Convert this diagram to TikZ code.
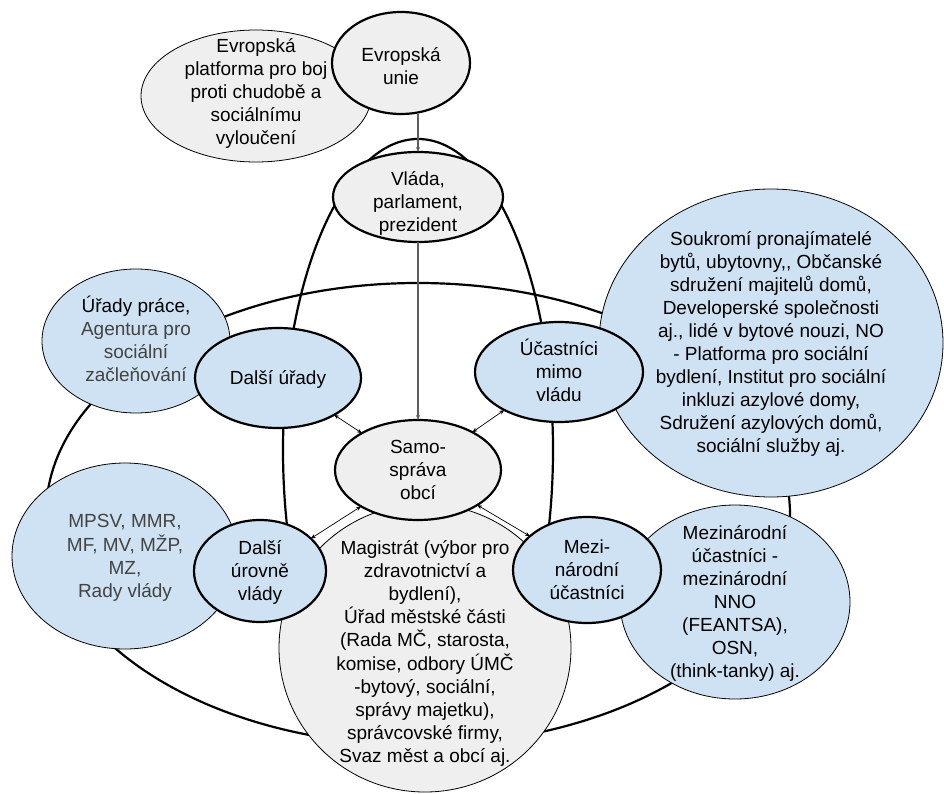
\documentclass[tikz,border=0pt]{standalone}
\usepackage{fontspec}
\setmainfont{Liberation Sans}
\usetikzlibrary{shapes.geometric,arrows.meta}
\definecolor{fillgray}{HTML}{EFEFEF}
\definecolor{fillblue}{HTML}{CFE2F3}
\definecolor{txtgray}{HTML}{434343}
\definecolor{arrowgray}{HTML}{5F5F5F}
\newcommand{\tx}[2][0pt]{\smash{\makebox[0pt]{\raisebox{\dimexpr-6pt-#1\relax}{\begin{tabular}{@{}c@{}}#2\end{tabular}}}}}
\tikzset{
  every node/.style={font=\fontsize{19}{23}\selectfont},
  ell/.style={ellipse, inner sep=0pt, outer sep=0pt},
  thickell/.style={ell, draw=black, line width=2.2pt},
  thinell/.style={ell, draw=black, line width=0.8pt},
  ring/.style={thickell, fill=none},
  grayfill/.style={fill=fillgray},
  bluefill/.style={fill=fillblue},
  dblarrow/.style={{Stealth[length=5pt,width=4pt]}-{Stealth[length=5pt,width=4pt]}, line width=0.7pt},
  grayarrow/.style={-{Stealth[length=5pt,width=4pt]}, line width=1.5pt, draw=arrowgray}
}
\begin{document}
\begin{tikzpicture}[x=1pt,y=-1pt]
\useasboundingbox (0,0) rectangle (944,794);
% big rings
\node[ring, minimum width=744pt, minimum height=462pt] (hring) at (418,514) {};
\node[ring, minimum width=270pt, minimum height=622pt] (vring) at (418,450) {};
% top
\node[thinell, grayfill, minimum width=230pt, minimum height=132pt] (plat) at (256,96)
  {\tx[-4pt]{Evropská\\platforma pro boj\\proti chudobě a\\sociálnímu\\vyloučení}};
\node[thickell, grayfill, minimum width=138pt, minimum height=102pt] (eu) at (401,63)
  {\tx[4pt]{Evropská\\unie}};
\node[thickell, grayfill, minimum width=170pt, minimum height=90pt] (vlada) at (418,197)
  {\tx[5pt]{Vláda,\\parlament,\\prezident}};
% left
\node[thinell, bluefill, minimum width=188pt, minimum height=144pt] (urprace) at (136,341)
  {\tx{Úřady práce,\\\textcolor{txtgray}{Agentura pro}\\\textcolor{txtgray}{sociální}\\\textcolor{txtgray}{začleňování}}};
\node[thickell, bluefill, minimum width=166pt, minimum height=100pt] (dalsiur) at (278,378)
  {\tx{Další úřady}};
\node[thinell, bluefill, minimum width=226pt, minimum height=186pt, text=txtgray] (mpsv) at (125,556)
  {\tx{MPSV, MMR,\\MF, MV, MŽP,\\MZ,\\Rady vlády}};
% right
\node[thinell, bluefill, minimum width=344pt, minimum height=308pt] (soukr) at (771,343)
  {\tx{Soukromí pronajímatelé\\bytů, ubytovny,{}, Občanské\\sdružení majitelů domů,\\Developerské společnosti\\aj., lidé v bytové nouzi, NO\\- Platforma pro sociální\\bydlení, Institut pro sociální\\inkluzi azylové domy,\\Sdružení azylových domů,\\sociální služby aj.}};
\node[thinell, bluefill, minimum width=230pt, minimum height=194pt] (mezitxt) at (735,602)
  {\tx{Mezinárodní\\účastníci -\\mezinárodní\\NNO\\(FEANTSA),\\OSN,\\(think-tanky) aj.}};
% bottom
\node[thinell, grayfill, minimum width=292pt, minimum height=288pt] (magis) at (425,648)
  {\tx[4pt]{Magistrát (výbor pro\\zdravotnictví a\\bydlení),\\Úřad městské části\\(Rada MČ, starosta,\\komise, odbory ÚMČ\\-bytový, sociální,\\správy majetku),\\správcovské firmy,\\Svaz měst a obcí aj.}};
\node[thickell, bluefill, minimum width=132pt, minimum height=102pt] (dalsiurov) at (260,571)
  {\tx{Další\\úrovně\\vlády}};
\node[thickell, bluefill, minimum width=148pt, minimum height=106pt] (mezi) at (587,570)
  {\tx{Mezi-\\národní\\účastníci}};
\node[thickell, bluefill, minimum width=168pt, minimum height=100pt] (ucast) at (559,372)
  {\tx{Účastníci\\mimo\\vládu}};
\node[thickell, grayfill, minimum width=166pt, minimum height=100pt] (samo) at (418,470)
  {\tx{Samo-\\správa\\obcí}};
% connectors
\draw[grayarrow] (eu.south -| vlada.north) -- (vlada.north);
\draw[grayarrow] (vlada) -- (samo);
\draw[dblarrow] (dalsiur) -- (samo);
\draw[dblarrow] (ucast) -- (samo);
\draw[dblarrow] (dalsiurov) -- (samo);
\draw[dblarrow] (mezi) -- (samo);
\end{tikzpicture}
\end{document}
